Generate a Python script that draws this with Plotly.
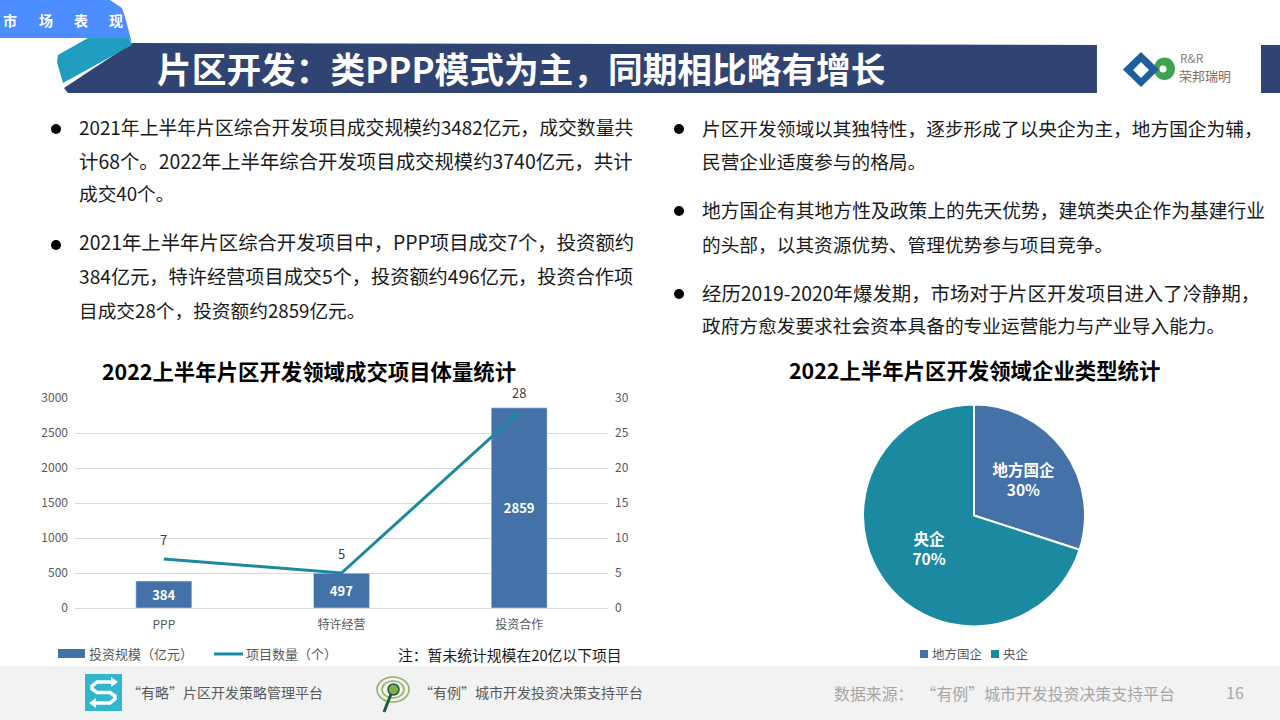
import plotly.graph_objects as go

W = 1280
H = 720
FONT = "Noto Sans CJK SC"

# 柱线图数据
categories = ["PPP", "特许经营", "投资合作"]
invest_scale = [384, 497, 2859]
project_count = [7, 5, 28]
left_ticks = [0, 500, 1000, 1500, 2000, 2500, 3000]
right_ticks = [0, 5, 10, 15, 20, 25, 30]
bar_name = "投资规模（亿元）"
line_name = "项目数量（个）"

# 饼图数据
pie_labels = ["地方国企", "央企"]
pie_values = [30, 70]

# 正文
left_lines = [
    "2021年上半年片区综合开发项目成交规模约3482亿元，成交数量共",
    "计68个。2022年上半年综合开发项目成交规模约3740亿元，共计",
    "成交40个。",
    "2021年上半年片区综合开发项目中，PPP项目成交7个，投资额约",
    "384亿元，特许经营项目成交5个，投资额约496亿元，投资合作项",
    "目成交28个，投资额约2859亿元。",
]
right_lines = [
    "片区开发领域以其独特性，逐步形成了以央企为主，地方国企为辅，",
    "民营企业适度参与的格局。",
    "地方国企有其地方性及政策上的先天优势，建筑类央企作为基建行业",
    "的头部，以其资源优势、管理优势参与项目竞争。",
    "经历2019-2020年爆发期，市场对于片区开发项目进入了冷静期，",
    "政府方愈发要求社会资本具备的专业运营能力与产业导入能力。",
]

# 原文两端对齐，这里每行用字号微调来撑满行宽
left_y = [128, 162, 195, 244, 278, 311]
left_size = [18.83, 19.4, 18.7, 19.37, 19.2, 18.7]
right_y = [129, 162, 211, 245, 294, 327]
right_size = [18.7, 18.7, 18.77, 18.7, 19.4, 18.7]
bullets = [(56, 129), (56, 245), (679, 129), (679, 211), (679, 294)]


def px(x):
    return x / W


def py(y):
    return 1 - y / H


def path(points, close=True):
    d = "M " + " L ".join(f"{px(x):.4f},{py(y):.4f}" for x, y in points)
    return d + " Z" if close else d


def add_text(fig, x, y, text, size, color="#1a1a1a", anchor="left", bold=False):
    if bold:
        text = f"<b>{text}</b>"
    # 注释自带约 2px 内边距
    x = x - 2 if anchor == "left" else x
    fig.add_annotation(xref="paper", yref="paper", x=px(x), y=py(y - 1), text=text, showarrow=False,
                       xanchor=anchor, yanchor="middle", align=anchor,
                       font=dict(family=FONT, size=size, color=color))


def add_poly(fig, points, color):
    fig.add_shape(type="path", xref="paper", yref="paper", path=path(points),
                  fillcolor=color, line_width=0, layer="below")


def add_stroke(fig, points, color, width):
    fig.add_shape(type="path", xref="paper", yref="paper", path=path(points, close=False),
                  line=dict(color=color, width=width), layer="below")


def add_circle(fig, x0, y0, x1, y1, fill, line="rgba(0,0,0,0)", width=0):
    fig.add_shape(type="circle", xref="paper", yref="paper", x0=px(x0), x1=px(x1), y0=py(y0), y1=py(y1),
                  fillcolor=fill, line=dict(color=line, width=width), layer="below")


def add_rect(fig, x0, y0, x1, y1, fill):
    fig.add_shape(type="rect", xref="paper", yref="paper", x0=px(x0), x1=px(x1), y0=py(y0), y1=py(y1),
                  fillcolor=fill, line_width=0, layer="below")


fig = go.Figure()

# 柱 + 折线
fig.add_trace(go.Bar(
    x=categories, y=invest_scale, name=bar_name, width=0.315,
    marker_color="#4472A8", text=invest_scale, textposition="inside", insidetextanchor="middle",
    textangle=0, textfont=dict(family=FONT, size=13, color="white", weight="bold"),
    hoverinfo="skip",
))
fig.add_trace(go.Scatter(
    x=categories, y=project_count, name=line_name, mode="lines", yaxis="y2",
    line=dict(color="#1B8AA0", width=3), hoverinfo="skip",
))
for cat, n in zip(categories, project_count):
    fig.add_annotation(x=cat, y=n, yref="y2", text=str(n), showarrow=False, yshift=20,
                       font=dict(family=FONT, size=13, color="#404040"))

# 饼图
fig.add_trace(go.Pie(
    labels=pie_labels, values=pie_values, sort=False, direction="clockwise", rotation=0,
    domain=dict(x=[px(863), px(1085)], y=[py(627), py(404)]),
    marker=dict(colors=["#4472A8", "#1B8AA0"], line=dict(color="white", width=2)),
    texttemplate="<b>%{label}<br>%{percent}</b>", textposition="inside", insidetextorientation="horizontal",
    textfont=dict(family=FONT, size=15.5, color="white"), hoverinfo="skip",
))

# 顶部色带
add_poly(fig, [(68, 93), (64, 88), (132, 43), (1097, 45), (1097, 93)], "#2F4473")
add_rect(fig, 1261, 45, 1280, 93, "#2F4473")
add_poly(fig, [(0, 0), (110, 0), (122, 8), (125, 17), (132, 43), (129, 38), (0, 38)], "#4C8DFF")
add_poly(fig, [(88, 38), (129, 38), (132, 45), (63, 83), (57, 62), (58, 55)], "#1F9DBF")

# 右上 logo
add_circle(fig, 1154, 57.5, 1175, 80, "#3FA34D")
add_circle(fig, 1159.5, 65.5, 1166.5, 72.5, "white")
add_poly(fig, [(1141, 52), (1159, 69.5), (1141, 87), (1123, 69.5)], "#1D5F9E")
add_poly(fig, [(1141, 62), (1149, 70), (1141, 78), (1133, 70)], "white")
add_text(fig, 1180, 58.5, "R&amp;R", 12, "#8A8078")
add_text(fig, 1179, 77, "荣邦瑞明", 13, "#8A6E58")

# 底部
add_rect(fig, 0, 666, 1280, 720, "#F2F2F2")
add_rect(fig, 85, 674, 122, 711, "#30B7CE")
add_stroke(fig, [(113, 682), (97, 682), (92, 686), (92, 689), (97, 692.5), (110, 692.5), (115, 696), (115, 699),
                 (110, 703), (94, 703)], "white", 3.5)
add_poly(fig, [(111, 677), (118, 682), (111, 687)], "white")
add_poly(fig, [(96, 698), (89, 703), (96, 708)], "white")
add_circle(fig, 377, 677, 409, 702, "rgba(0,0,0,0)", "#8DB255", 1.5)
add_circle(fig, 382, 681, 404, 698, "rgba(0,0,0,0)", "#8DB255", 1.5)
add_circle(fig, 388, 684, 399, 695, "#7FAE4A", "#1F5A3C", 1.5)
add_stroke(fig, [(391, 694), (384, 712)], "#1F5A3C", 3)
add_text(fig, 127, 693, "“有略”片区开发策略管理平台", 14, "#595959")
add_text(fig, 419, 693, "“有例”城市开发投资决策支持平台", 14, "#595959")
add_text(fig, 834, 694, "数据来源：  “有例”城市开发投资决策支持平台", 15.9, "#A6A6A6")
add_text(fig, 1226, 693, "16", 16, "#A6A6A6")

# 标题文字
add_text(fig, 3, 21, "市", 14, "white", "left", True)
add_text(fig, 39, 21, "场", 14, "white", "left", True)
add_text(fig, 74, 21, "表", 14, "white", "left", True)
add_text(fig, 109, 21, "现", 14, "white", "left", True)
add_text(fig, 157, 69, "片区开发：类PPP模式为主，同期相比略有增长", 34.7, "white", "left", True)
add_text(fig, 309, 372, "2022上半年片区开发领域成交项目体量统计", 21.4, "black", "center", True)
add_text(fig, 974, 371, "2022上半年片区开发领域企业类型统计", 21.4, "black", "center", True)
add_text(fig, 398, 655, "注：暂未统计规模在20亿以下项目", 14.8, "#1a1a1a")

for y, size, line in zip(left_y, left_size, left_lines):
    add_text(fig, 79, y - 1, line, size)
for y, size, line in zip(right_y, right_size, right_lines):
    add_text(fig, 702, y - 1, line, size)
for x, y in bullets:
    add_circle(fig, x - 5, y - 5, x + 5, y + 5, "black")

# 图例手工摆放，原图色块是扁长条
add_rect(fig, 58, 649, 85, 658, "#4472A8")
add_text(fig, 89, 654, bar_name, 13, "#595959")
add_stroke(fig, [(214, 654), (243, 654)], "#1B8AA0", 3)
add_text(fig, 246, 654, line_name, 13, "#595959")
add_rect(fig, 920, 650, 928, 658, "#4472A8")
add_text(fig, 932, 654, pie_labels[0], 12.5, "#595959")
add_rect(fig, 991, 650, 999, 658, "#1B8AA0")
add_text(fig, 1003, 654, pie_labels[1], 12.5, "#595959")

fig.update_layout(
    width=W, height=H, autosize=False,
    margin=dict(l=0, r=0, t=0, b=0, autoexpand=False),
    paper_bgcolor="white", plot_bgcolor="white",
    font=dict(family=FONT),
    showlegend=False,
    xaxis=dict(domain=[px(75), px(608)], tickfont=dict(size=12, color="#595959"), showgrid=False,
               showline=True, linecolor="#D9D9D9", ticks="", ticklabelstandoff=6, automargin=False),
    yaxis=dict(domain=[py(608), py(398)], range=[0, 3000], tickvals=left_ticks,
               tickfont=dict(size=12, color="#595959"), gridcolor="#D9D9D9", zeroline=False,
               ticks="", ticklabelstandoff=6, automargin=False),
    yaxis2=dict(domain=[py(608), py(398)], range=[0, 30], tickvals=right_ticks, overlaying="y", side="right",
                tickfont=dict(size=12, color="#595959"), showgrid=False, zeroline=False,
                ticks="", ticklabelstandoff=6, anchor="x", automargin=False),
)

fig.write_html("out.html", config=dict(displayModeBar=False), post_script="document.body.style.margin='0';")
